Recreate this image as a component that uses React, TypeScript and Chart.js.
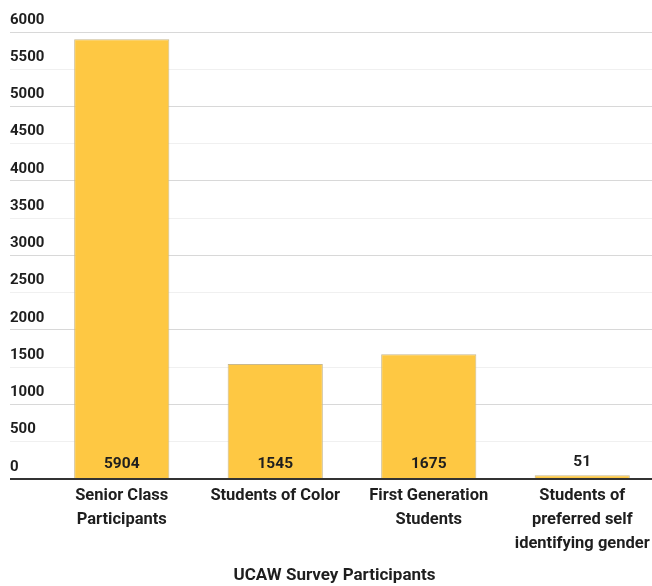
import React, { useEffect, useRef } from "react";
import { Chart, registerables } from "chart.js";

Chart.register(...registerables);

const categories: string[][] = [
  ["Senior Class", "Participants"],
  ["Students of Color"],
  ["First Generation", "Students"],
  ["Students of", "preferred self", "identifying gender"],
];
const participants: number[] = [5904, 1545, 1675, 51];
const axisTitle = "UCAW Survey Participants";
const yMin = 0;
const yMax = 6000;
const yStep = 500;

const FONT = "Roboto, 'Noto Sans', sans-serif";

const valueLabels = {
  id: "valueLabels",
  afterDatasetsDraw(chart: any) {
    const ctx = chart.ctx;
    const meta = chart.getDatasetMeta(0);
    const yScale = chart.scales.y;
    const base = yScale.getPixelForValue(0);
    ctx.save();
    ctx.font = `bold 15.5px ${FONT}`;
    ctx.fillStyle = "#1e1e1e";
    ctx.textAlign = "center";
    ctx.textBaseline = "middle";
    meta.data.forEach((bar: any, i: number) => {
      const h = base - bar.y;
      const y = h > 30 ? base - 15 : bar.y - 13;
      ctx.fillText(String(participants[i]), bar.x, y);
    });
    ctx.restore();
  },
};

export default function App() {
  const ref = useRef<HTMLCanvasElement | null>(null);
  useEffect(() => {
    if (!ref.current) return;
    const chart = new Chart(ref.current, {
      type: "bar",
      data: {
        labels: categories,
        datasets: [
          {
            data: participants,
            backgroundColor: "#FEC843",
            borderColor: "#c9b98e",
            borderWidth: 1,
            barPercentage: 0.62,
            categoryPercentage: 1,
          },
        ],
      },
      plugins: [valueLabels],
      options: {
        animation: false,
        responsive: true,
        maintainAspectRatio: false,
        layout: { padding: { left: 10, right: 9, top: 32, bottom: 0 } },
        plugins: {
          legend: { display: false },
          tooltip: { enabled: false },
          title: {
            display: true,
            position: "bottom",
            text: axisTitle,
            color: "#1e1e1e",
            font: { family: FONT, size: 17, weight: "bold", lineHeight: 1.2 },
            padding: { top: 4.6, bottom: 0 },
          },
        },
        scales: {
          x: {
            grid: { display: false, drawTicks: false },
            border: { display: false },
            ticks: {
              color: "#1e1e1e",
              padding: 5,
              maxRotation: 0,
              autoSkip: false,
              font: { family: FONT, size: 16.5, weight: "bold", lineHeight: 1.455 },
            },
          },
          y: {
            min: yMin,
            max: yMax,
            border: { display: false },
            afterFit: (scale: any) => {
              scale.width = 35;
            },
            grid: {
              tickLength: 35,
              color: (c: any) =>
                c.tick && c.tick.value === 0
                  ? "#333333"
                  : c.tick && c.tick.value % 1000 === 0
                  ? "#d8d8d8"
                  : "#f0f0f0",
              lineWidth: (c: any) => (c.tick && c.tick.value === 0 ? 2 : 1),
            },
            ticks: {
              stepSize: yStep,
              crossAlign: "far",
              labelOffset: -12,
              padding: 0,
              color: "#1e1e1e",
              font: { family: FONT, size: 15, weight: "bold" },
              callback: (v: any) => String(v),
            },
          },
        },
      },
    });
    return () => chart.destroy();
  }, []);
  return (
    <div
      style={{
        position: "absolute",
        left: 0,
        top: 0,
        width: 652,
        height: 586,
        overflow: "hidden",
        background: "#fff",
      }}
    >
      <div style={{ position: "relative", width: 668, height: 586 }}>
        <canvas ref={ref} />
      </div>
    </div>
  );
}
